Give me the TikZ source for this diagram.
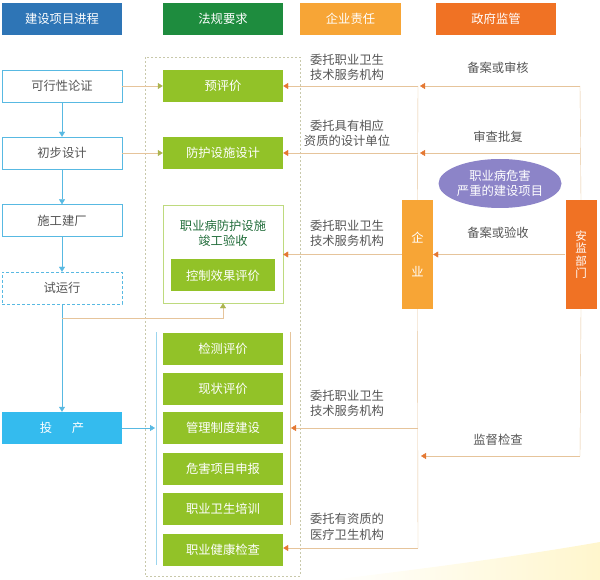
\documentclass[tikz,border=0pt]{standalone}
\usepackage{fontspec}
\setmainfont{Noto Sans CJK SC}
\usepackage{tikz}
\usetikzlibrary{arrows.meta,positioning,calc,shapes.geometric}
\definecolor{hBlue}{RGB}{46,117,182}
\definecolor{hGreen}{RGB}{30,140,62}
\definecolor{hEnt}{RGB}{247,165,54}
\definecolor{hGov}{RGB}{240,114,36}
\definecolor{mLeaf}{RGB}{146,194,40}
\definecolor{mSky}{RGB}{88,185,226}
\definecolor{mSkyFill}{RGB}{52,187,238}
\definecolor{mTan}{RGB}{230,196,155}
\definecolor{mTip}{RGB}{228,120,50}
\definecolor{mOlive}{RGB}{172,180,80}
\definecolor{mPurple}{RGB}{140,132,200}
\definecolor{mText}{RGB}{85,85,85}
\definecolor{mDash}{RGB}{200,200,170}
\definecolor{mTitle}{RGB}{35,110,60}
\definecolor{mSwoosh}{RGB}{255,246,205}

\begin{document}
\begin{tikzpicture}[x=1pt,y=-1pt,
    every node/.style={font=\fontsize{12.3}{15.5}\selectfont, inner sep=0pt},
    headbox/.style={minimum width=120pt, minimum height=32pt, text=white},
    stagebox/.style={draw=mSky, fill=white, minimum width=120pt, minimum height=32pt, text=mText},
    lawbox/.style={fill=mLeaf, minimum width=120pt, minimum height=32pt, text=white},
    sidebox/.style={minimum width=31pt, minimum height=109pt, text=white, align=center},
    notelabel/.style={text=mText, align=center},
    skyarrow/.style={mSky, -{Triangle[length=5pt,width=6pt]}},
    olivearrow/.style={mTan, -{Triangle[length=5pt,width=6pt,color=mOlive]}},
    tanarrow/.style={mTan, -{Triangle[length=5pt,width=6pt,color=mTip]}}]
    \useasboundingbox (0,0) rectangle (600,580);
    % background swoosh
    \shade[left color=white, right color=mSwoosh] (330,580) .. controls (430,568) and (520,556) .. (600,542) -- (600,580) -- cycle;
    % headers
    \node[headbox, fill=hBlue] (hProg) at (62,19) {建设项目进程};
    \node[headbox, fill=hGreen] (hLaw) at (223,19) {法规要求};
    \node[headbox, fill=hEnt, minimum width=101pt] (hEnt) at (350.5,19) {企业责任};
    \node[headbox, fill=hGov] (hGov) at (496,19) {政府监管};
    % dashed frame
    \draw[mDash, dash pattern=on 2pt off 2pt] (145,57) rectangle (300,576);
    % project stages
    \node[stagebox] (feasib) at (62,86) {可行性论证};
    \node[stagebox] (prelim) at (62,153) {初步设计};
    \node[stagebox] (build) at (62,220.5) {施工建厂};
    \node[stagebox, dash pattern=on 3pt off 2pt] (trial) at (62,288) {试运行};
    \node[stagebox, draw=none, fill=mSkyFill, text=white] (prod) at (62,428) {投\hspace{1.6em}产};
    % legal requirements
    \node[lawbox] (preEval) at (223,86) {预评价};
    \node[lawbox] (protDes) at (223,153) {防护设施设计};
    \node[draw=mLeaf!60, fill=white, minimum width=120pt, minimum height=98pt] (accept) at (223,254) {};
    \node[text=mTitle, align=center] (acceptT) at (223,233.5) {职业病防护设施\\竣工验收};
    \node[lawbox, minimum width=104pt] (ctrlEval) at (223,275.5) {控制效果评价};
    \node[lawbox] (detEval) at (223,348.5) {检测评价};
    \node[lawbox] (statEval) at (223,388.5) {现状评价};
    \node[lawbox] (mgmt) at (223,428) {管理制度建设};
    \node[lawbox] (report) at (223,469) {危害项目申报};
    \node[lawbox] (train) at (223,509) {职业卫生培训};
    \node[lawbox] (exam) at (223,549.5) {职业健康检查};
    % enterprise and government
    \node[sidebox, fill=hEnt] (ent) at (417.5,254.5) {企\\[18pt]业};
    \node[sidebox, fill=hGov, font=\fontsize{11.5}{12.5}\selectfont] (gov) at (581,254.5) {安\\监\\部\\门};
    \node[ellipse, fill=mPurple, text=white, align=center, minimum width=123pt, minimum height=49pt] (serious) at (500,183.5) {职业病危害\\严重的建设项目};
    % junction points
    \coordinate (g1) at (580,86);
    \coordinate (g2) at (580,153);
    \coordinate (g4) at (580,456);
    \coordinate (e1) at (418,86);
    \coordinate (e2) at (418,153);
    \coordinate (e3) at (418,456);
    \coordinate (e4) at (418,428);
    \coordinate (e5) at (418,548);
    \coordinate (r1) at (290,332);
    \coordinate (r2) at (291,428);
    \coordinate (r3) at (290,525);
    \coordinate (b1) at (156,332);
    \coordinate (b2) at (155,428);
    \coordinate (b3) at (156,565);
    \coordinate (j1) at (62,318);
    % vertical rails
    \draw[mTan] (g1) -- (gov.north);
    \draw[mTan] (gov.south) -- (g4);
    \draw[mTan] (e1) -- (ent.north);
    \draw[mTan] (ent.south) -- (e5);
    \draw[mTan] (r1) -- (r3);
    \draw[mSky!60] (b1) -- (b3);
    % government to enterprise
    \draw[tanarrow] (g1) -- ([xshift=2pt]e1);
    \draw[tanarrow] (g2) -- ([xshift=2pt]e2);
    \draw[tanarrow] (gov.west |- ent.east) -- (ent.east);
    \draw[tanarrow] (g4) -- ([xshift=3pt]e3);
    % enterprise to requirements
    \draw[tanarrow] (e1) -- (preEval.east);
    \draw[tanarrow] (e2) -- (protDes.east);
    \draw[tanarrow] (ent.west) -- (accept.east |- ent.west);
    \draw[tanarrow] (e4) -- (r2);
    \draw[tanarrow] (e5) -- (exam.east |- e5);
    % project flow
    \draw[skyarrow] (feasib) -- (prelim);
    \draw[skyarrow] (prelim) -- (build);
    \draw[skyarrow] (build) -- (trial);
    \draw[skyarrow] (trial) -- (prod);
    \draw[skyarrow] (prod) -- (b2);
    \draw[olivearrow] (feasib) -- (preEval);
    \draw[olivearrow] (prelim) -- (protDes);
    \draw[olivearrow] (j1) -| (accept.south);
    % labels
    \node[notelabel] (n1) at (347,67.5) {委托职业卫生\\技术服务机构};
    \node[notelabel] (n2) at (347,133.5) {委托具有相应\\资质的设计单位};
    \node[notelabel] (n3) at (347,233.5) {委托职业卫生\\技术服务机构};
    \node[notelabel] (n4) at (347,403.5) {委托职业卫生\\技术服务机构};
    \node[notelabel] (n5) at (347,527) {委托有资质的\\医疗卫生机构};
    \node[notelabel] (m1) at (498,68) {备案或审核};
    \node[notelabel] (m2) at (498,137) {审查批复};
    \node[notelabel] (m3) at (498,233) {备案或验收};
    \node[notelabel] (m4) at (498,440) {监督检查};
\end{tikzpicture}
\end{document}
